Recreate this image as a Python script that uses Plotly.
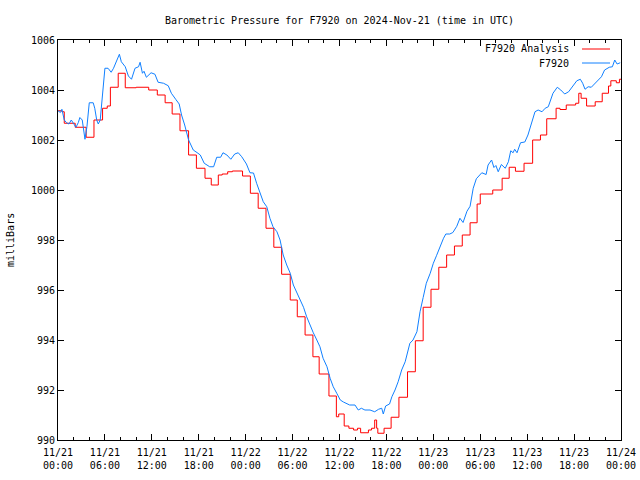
import pandas as pd
import plotly.graph_objects as go

# ---- data (hours after 2024-11-21 00:00 UTC, pressure in mb) ----
obs_hours = [0.0, 0.3, 0.5, 0.8, 1.1, 1.4, 1.7, 2.0, 2.3, 2.6, 2.8, 3.1, 3.45, 3.7, 4.0, 4.5, 4.7, 4.95,
             5.15, 5.4, 5.7, 6.0, 6.4, 6.8, 7.1, 7.5, 7.85, 8.1, 8.6, 9.0, 9.4, 9.85, 10.3, 10.5, 10.8,
             11.0, 11.3, 11.9, 12.4, 12.8, 13.5, 14.1, 14.5, 15.05, 15.5, 15.8, 16.2, 16.7, 17.3, 17.9,
             18.2, 18.7, 19.4, 19.9, 20.3, 20.8, 21.1, 21.6, 22.1, 22.6, 23.05, 23.5, 24.1, 24.55, 25.0,
             25.4, 25.8, 26.25, 26.7, 27.1, 27.5, 28.0, 28.4, 28.8, 29.25, 29.7, 30.1, 30.5, 30.95, 31.4,
             31.8, 32.2, 32.65, 33.1, 33.5, 33.9, 34.4, 34.8, 35.2, 35.65, 36.1, 36.5, 36.9, 37.3, 37.98,
             38.2, 38.4, 38.8, 39.25, 39.9, 40.5, 41.0, 41.4, 41.6, 41.9, 42.4, 42.7, 43.1, 43.5, 43.95,
             44.4, 45.0, 45.4, 45.9, 46.3, 46.7, 47.1, 47.6, 48.0, 48.4, 48.85, 49.3, 49.6, 50.1, 50.5,
             51.0, 51.4, 51.8, 52.3, 52.7, 53.1, 53.5, 54.2, 54.75, 55.0, 55.45, 55.75, 56.0, 56.3, 56.7,
             57.2, 57.6, 57.9, 58.2, 58.4, 58.7, 59.15, 59.7, 60.1, 60.6, 61.0, 61.4, 61.9, 62.3, 62.7,
             63.3, 63.85, 64.3, 64.8, 65.3, 65.9, 66.35, 66.8, 67.1, 67.4, 67.8, 68.2, 68.8, 69.5, 69.9,
             70.5, 70.9, 71.2, 71.5, 71.9]
obs_mb = [1003.17, 1003.1, 1003.23, 1002.8, 1002.69, 1002.64, 1002.8, 1002.64, 1002.51, 1002.7, 1002.9,
          1002.8, 1002.03, 1002.53, 1003.49, 1003.49, 1003.27, 1002.8, 1002.64, 1002.8, 1004.0, 1004.87,
          1004.87, 1004.71, 1004.87, 1005.2, 1005.43, 1005.13, 1004.93, 1004.56, 1004.43, 1004.87, 1004.93,
          1005.11, 1004.67, 1004.75, 1004.51, 1004.69, 1004.63, 1004.31, 1004.27, 1004.17, 1003.87, 1003.63,
          1003.44, 1003.0, 1002.6, 1002.0, 1001.6, 1001.47, 1001.4, 1001.07, 1000.93, 1000.93, 1001.31,
          1001.31, 1001.49, 1001.4, 1001.23, 1001.44, 1001.49, 1001.33, 1001.04, 1000.69, 1000.68, 1000.27,
          999.93, 999.53, 999.33, 998.87, 998.53, 998.33, 998.0, 997.4, 997.0, 996.67, 996.2, 995.93, 995.6,
          995.31, 994.93, 994.6, 994.29, 994.0, 993.73, 993.27, 992.93, 992.47, 992.13, 991.87, 991.6,
          991.52, 991.47, 991.4, 991.4, 991.3, 991.2, 991.27, 991.2, 991.2, 991.13, 991.23, 991.27, 991.04,
          991.36, 991.44, 991.73, 992.0, 992.33, 992.8, 993.13, 993.87, 994.0, 994.33, 995.13, 995.7,
          996.27, 996.67, 997.07, 997.37, 997.75, 998.07, 998.24, 998.24, 998.3, 998.55, 998.87, 998.7,
          999.15, 999.35, 1000.07, 1000.45, 1000.69, 1000.62, 1001.0, 1001.2, 1000.9, 1000.98, 1000.73,
          1001.02, 1000.87, 1001.13, 1001.57, 1001.49, 1001.63, 1001.49, 1001.89, 1001.92, 1002.2, 1002.67,
          1003.13, 1003.2, 1003.13, 1003.27, 1003.33, 1003.87, 1004.11, 1004.0, 1003.84, 1003.93, 1004.2,
          1004.37, 1004.43, 1004.27, 1004.03, 1004.13, 1004.11, 1004.29, 1004.53, 1004.8, 1004.91, 1004.93,
          1005.2, 1005.04, 1005.09]

ana_hours = [0.0, 0.5, 0.8, 2.2, 3.6, 4.6, 5.7, 6.3, 6.7, 7.7, 8.6, 10.0, 11.6, 12.7, 13.7, 14.6, 15.6,
             16.7, 17.7, 18.8, 19.6, 20.5, 21.0, 21.7, 22.3, 23.6, 24.6, 25.6, 26.6, 27.6, 28.6, 29.7,
             30.6, 31.6, 32.6, 33.4, 34.65, 35.6, 35.9, 36.6, 37.2, 37.8, 38.3, 38.7, 39.7, 40.1, 40.5,
             40.75, 40.9, 41.7, 42.6, 43.6, 44.7, 45.7, 46.7, 47.7, 48.7, 49.7, 50.7, 51.7, 52.7, 53.6,
             54.0, 55.6, 56.8, 57.7, 58.5, 59.6, 60.7, 61.7, 62.5, 63.7, 64.2, 65.0, 66.2, 66.6, 66.9,
             67.6, 68.7, 69.6, 70.4, 70.7, 71.4, 71.8, 72.0]
ana_mb = [1003.17, 1003.13, 1002.67, 1002.51, 1002.11, 1002.8, 1003.27, 1003.36, 1004.11, 1004.67,
          1004.09, 1004.11, 1004.0, 1003.8, 1003.49, 1003.04, 1002.37, 1001.4, 1000.87, 1000.47, 1000.2,
          1000.6, 1000.64, 1000.73, 1000.76, 1000.56, 999.87, 999.27, 998.47, 997.71, 996.63, 995.6,
          994.93, 994.2, 993.33, 992.64, 991.76, 990.93, 991.04, 990.56, 990.47, 990.4, 990.47, 990.29,
          990.4, 990.47, 990.8, 990.47, 990.27, 990.47, 990.91, 991.71, 992.73, 993.97, 995.31, 996.03,
          996.91, 997.4, 997.76, 998.2, 998.69, 999.44, 999.84, 1000.0, 1000.47, 1000.91, 1000.75,
          1001.07, 1002.0, 1002.2, 1002.85, 1003.27, 1003.22, 1003.4, 1003.47, 1003.87, 1003.67, 1003.36,
          1003.53, 1003.87, 1004.16, 1004.37, 1004.29, 1004.43, 1004.43]

start = pd.Timestamp("2024-11-21 00:00")
end = pd.Timestamp("2024-11-24 00:00")
obs_t = start + pd.to_timedelta(obs_hours, unit="h")
ana_t = start + pd.to_timedelta(ana_hours, unit="h")

title_text = "Barometric Pressure for F7920 on 2024-Nov-21 (time in UTC)"
ana_name = "F7920 Analysis"
obs_name = "F7920"
red = "#ff0000"
blue = "#1080ff"
FONT = "DejaVu Sans Mono, Liberation Mono, monospace"
FS = 10

fig = go.Figure()
fig.add_trace(go.Scatter(x=ana_t, y=ana_mb, mode="lines", name=ana_name,
                         line=dict(color=red, width=1, shape="hv")))
fig.add_trace(go.Scatter(x=obs_t, y=obs_mb, mode="lines", name=obs_name,
                         line=dict(color=blue, width=1)))

fig.update_layout(
    width=640, height=480,
    margin=dict(l=58, r=19, t=40, b=40, autoexpand=False),
    paper_bgcolor="white", plot_bgcolor="white",
    showlegend=False,
    font=dict(family=FONT, size=FS, color="black"),
    title=dict(text=title_text, xref="paper", x=0.5, xanchor="center",
               yref="container", y=1 - 20 / 480, yanchor="middle",
               font=dict(family=FONT, size=FS, color="black")),
)
fig.update_xaxes(
    type="date", range=[start, end], automargin=False,
    tickmode="linear", tick0=start, dtick=6 * 3600 * 1000,
    tickformat="%m/%d<br>%H:%M", ticklabelstandoff=3,
    ticks="inside", ticklen=6, tickcolor="black",
    minor=dict(ticks="inside", ticklen=3, dtick=2 * 3600 * 1000, tick0=start, tickcolor="black"),
    showline=True, linecolor="black", linewidth=1, mirror="ticks",
    showgrid=False, zeroline=False,
    tickfont=dict(family=FONT, size=FS),
)
fig.update_yaxes(
    range=[990, 1006], automargin=False, tickmode="linear", tick0=990, dtick=2,
    ticks="inside", ticklen=6, tickcolor="black",
    showline=True, linecolor="black", linewidth=1, mirror="ticks",
    showgrid=False, zeroline=False,
    tickfont=dict(family=FONT, size=FS),
)
# y-axis title placed where the reference has it
fig.add_annotation(xref="paper", yref="paper", x=-48 / 563, y=0.5, text="milliBars",
                   textangle=-90, showarrow=False, xanchor="center", yanchor="middle",
                   font=dict(family=FONT, size=FS, color="black"))

# legend drawn gnuplot-style (text right-aligned, sample line to the right)
for i, (name, col) in enumerate([(ana_name, red), (obs_name, blue)]):
    yp = (440 - 49 - i * 14) / 400
    fig.add_annotation(xref="paper", yref="paper", x=(573 - 58) / 563, y=yp, text=name,
                       showarrow=False, xanchor="right", yanchor="middle", xshift=-2,
                       font=dict(family=FONT, size=FS, color="black"))
    fig.add_shape(type="line", xref="paper", yref="paper", x0=(582 - 58) / 563, x1=(610 - 58) / 563,
                  y0=yp, y1=yp, line=dict(color=col, width=1))

fig.write_html("out.html", config={"displayModeBar": False},
               post_script="document.body.style.margin='0';document.body.style.padding='0';")
